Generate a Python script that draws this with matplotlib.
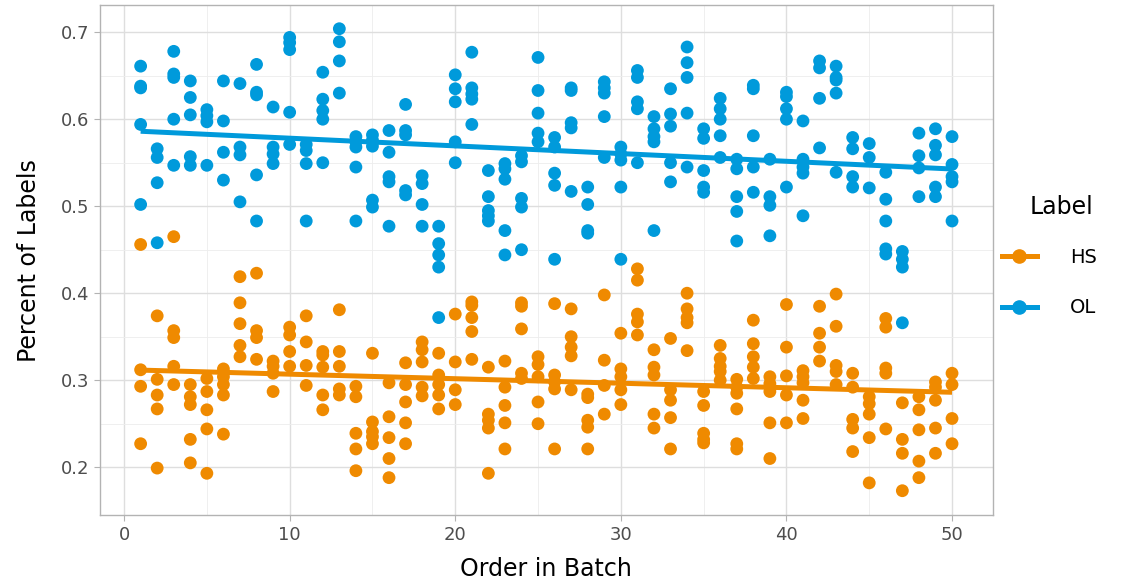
import numpy as np
import matplotlib
matplotlib.use("Agg")
import matplotlib.pyplot as plt
from matplotlib.lines import Line2D

order = list(range(1, 51))

ol_values = [
    [0.661, 0.638, 0.636, 0.594, 0.502],
    [0.566, 0.556, 0.527, 0.458],
    [0.678, 0.652, 0.648, 0.600, 0.547],
    [0.644, 0.625, 0.605, 0.557, 0.547],
    [0.611, 0.604, 0.597, 0.547],
    [0.644, 0.598, 0.562, 0.530],
    [0.641, 0.568, 0.559, 0.505],
    [0.663, 0.631, 0.628, 0.536, 0.483],
    [0.614, 0.568, 0.560, 0.549],
    [0.694, 0.688, 0.680, 0.608, 0.571],
    [0.571, 0.564, 0.549, 0.483],
    [0.654, 0.623, 0.610, 0.600, 0.550],
    [0.704, 0.689, 0.667, 0.630],
    [0.580, 0.574, 0.568, 0.545, 0.483],
    [0.582, 0.576, 0.569, 0.507, 0.499],
    [0.587, 0.562, 0.534, 0.528, 0.477],
    [0.617, 0.587, 0.582, 0.518, 0.513],
    [0.535, 0.526, 0.502, 0.477],
    [0.477, 0.457, 0.444, 0.430, 0.372],
    [0.651, 0.635, 0.620, 0.574, 0.550],
    [0.677, 0.636, 0.629, 0.623, 0.594],
    [0.541, 0.511, 0.495, 0.489, 0.483],
    [0.549, 0.543, 0.531, 0.472, 0.444],
    [0.558, 0.551, 0.509, 0.499, 0.450],
    [0.671, 0.633, 0.607, 0.584, 0.574],
    [0.579, 0.568, 0.538, 0.524, 0.439],
    [0.636, 0.633, 0.596, 0.590, 0.517],
    [0.522, 0.502, 0.472, 0.469],
    [0.643, 0.636, 0.630, 0.603, 0.556],
    [0.568, 0.560, 0.553, 0.522, 0.439],
    [0.656, 0.648, 0.620, 0.612, 0.550],
    [0.603, 0.589, 0.580, 0.574, 0.472],
    [0.635, 0.606, 0.592, 0.550, 0.528],
    [0.683, 0.665, 0.648, 0.607, 0.545],
    [0.589, 0.578, 0.541, 0.522, 0.516],
    [0.624, 0.612, 0.600, 0.581, 0.556],
    [0.554, 0.543, 0.511, 0.494, 0.460],
    [0.639, 0.635, 0.581, 0.545, 0.516],
    [0.554, 0.511, 0.501, 0.466],
    [0.631, 0.626, 0.612, 0.600, 0.522],
    [0.598, 0.554, 0.545, 0.538, 0.489],
    [0.667, 0.659, 0.624, 0.567],
    [0.661, 0.648, 0.645, 0.630, 0.539],
    [0.579, 0.566, 0.534, 0.522],
    [0.572, 0.556, 0.521],
    [0.539, 0.508, 0.483, 0.451, 0.445],
    [0.448, 0.439, 0.430, 0.366],
    [0.584, 0.558, 0.544, 0.511],
    [0.589, 0.570, 0.559, 0.522, 0.511],
    [0.580, 0.548, 0.534, 0.528, 0.483],
]

hs_values = [
    [0.456, 0.312, 0.293, 0.227],
    [0.374, 0.301, 0.283, 0.267, 0.199],
    [0.465, 0.357, 0.349, 0.316, 0.295],
    [0.295, 0.281, 0.272, 0.232, 0.205],
    [0.302, 0.287, 0.266, 0.244, 0.193],
    [0.313, 0.304, 0.295, 0.283, 0.238],
    [0.419, 0.389, 0.365, 0.340, 0.327],
    [0.423, 0.357, 0.349, 0.324],
    [0.322, 0.316, 0.308, 0.287],
    [0.361, 0.352, 0.333, 0.316],
    [0.374, 0.344, 0.317, 0.294],
    [0.333, 0.329, 0.315, 0.283, 0.266],
    [0.381, 0.333, 0.316, 0.290, 0.283],
    [0.293, 0.281, 0.239, 0.221, 0.196],
    [0.331, 0.252, 0.241, 0.235, 0.227],
    [0.297, 0.258, 0.234, 0.210, 0.188],
    [0.320, 0.295, 0.275, 0.251, 0.227],
    [0.344, 0.335, 0.321, 0.292, 0.282],
    [0.331, 0.306, 0.295, 0.283, 0.267],
    [0.376, 0.321, 0.289, 0.272],
    [0.390, 0.386, 0.372, 0.356, 0.324],
    [0.315, 0.261, 0.254, 0.245, 0.193],
    [0.322, 0.292, 0.271, 0.251, 0.221],
    [0.389, 0.385, 0.359, 0.308, 0.302],
    [0.327, 0.318, 0.304, 0.275, 0.250],
    [0.388, 0.306, 0.298, 0.290, 0.221],
    [0.382, 0.350, 0.338, 0.328, 0.289],
    [0.284, 0.280, 0.254, 0.246, 0.221],
    [0.398, 0.323, 0.294, 0.261],
    [0.354, 0.313, 0.304, 0.289, 0.272],
    [0.428, 0.415, 0.376, 0.367, 0.352],
    [0.335, 0.315, 0.306, 0.261, 0.245],
    [0.348, 0.289, 0.277, 0.257, 0.221],
    [0.400, 0.382, 0.372, 0.366, 0.334],
    [0.287, 0.271, 0.239, 0.232, 0.228],
    [0.340, 0.325, 0.316, 0.310, 0.300],
    [0.301, 0.292, 0.285, 0.267, 0.227, 0.221],
    [0.369, 0.342, 0.327, 0.315, 0.302],
    [0.304, 0.296, 0.287, 0.251, 0.210],
    [0.387, 0.338, 0.305, 0.283, 0.251],
    [0.311, 0.304, 0.297, 0.277, 0.256],
    [0.385, 0.354, 0.338, 0.322],
    [0.399, 0.362, 0.317, 0.310, 0.295],
    [0.308, 0.292, 0.255, 0.245, 0.218],
    [0.281, 0.273, 0.261, 0.234, 0.182],
    [0.371, 0.361, 0.314, 0.308, 0.244],
    [0.274, 0.232, 0.216, 0.173],
    [0.281, 0.266, 0.243, 0.207, 0.188],
    [0.298, 0.292, 0.277, 0.245, 0.216],
    [0.308, 0.295, 0.256, 0.227],
]

labels = ["HS", "OL"]
colors = {"HS": "#EF8A00", "OL": "#009ADB"}

fig = plt.figure(figsize=(11.37, 5.82), dpi=100)
ax = fig.add_axes([0.088, 0.115, 0.785, 0.876])

series = {"HS": hs_values, "OL": ol_values}
for lab in labels:
    xs = np.concatenate([[o] * len(v) for o, v in zip(order, series[lab])])
    ys = np.concatenate([v for v in series[lab]])
    ax.scatter(xs, ys, s=85, color=colors[lab], edgecolors="none", zorder=3)
    k, b = np.polyfit(xs, ys, 1)
    xl = np.array([min(order), max(order)])
    ax.plot(xl, k * xl + b, color=colors[lab], lw=3.6, zorder=4, solid_capstyle="butt")

ax.set_xlim(-1.45, 52.45)
ax.set_ylim(0.145, 0.731)
ax.set_xticks([0, 10, 20, 30, 40, 50])
ax.set_xticks([5, 15, 25, 35, 45], minor=True)
ax.set_yticks([0.2, 0.3, 0.4, 0.5, 0.6, 0.7])
ax.set_yticks([0.25, 0.35, 0.45, 0.55, 0.65], minor=True)
ax.set_yticklabels(["0.2", "0.3", "0.4", "0.5", "0.6", "0.7"])
ax.grid(which="major", color="#DEDEDE", lw=1.0, zorder=0)
ax.grid(which="minor", color="#EDEDED", lw=0.6, zorder=0)
ax.set_axisbelow(True)
for sp in ax.spines.values():
    sp.set_color("#B3B3B3")
    sp.set_linewidth(1.0)
ax.tick_params(which="major", length=4, color="#B3B3B3", labelcolor="#4D4D4D", labelsize=13, pad=4)
ax.tick_params(which="minor", length=0)
ax.set_xlabel("Order in Batch", fontsize=17, color="black", labelpad=9)
ax.set_ylabel("Percent of Labels", fontsize=17, color="black", labelpad=14)

handles = [Line2D([0], [0], color=colors[l], lw=3.6, marker="o", markersize=9.5) for l in labels]
leg = fig.legend(handles, labels, loc="center left",
                 bbox_to_anchor=(0.881, 0.514), frameon=False, fontsize=14,
                 handlelength=1.8, labelspacing=1.6,
                 handletextpad=1.7, borderaxespad=0, borderpad=0)
fig.text(1030 / 1137, 1 - 207 / 582, "Label", fontsize=17, ha="left", va="center")

fig.savefig("out.png", dpi=100)
